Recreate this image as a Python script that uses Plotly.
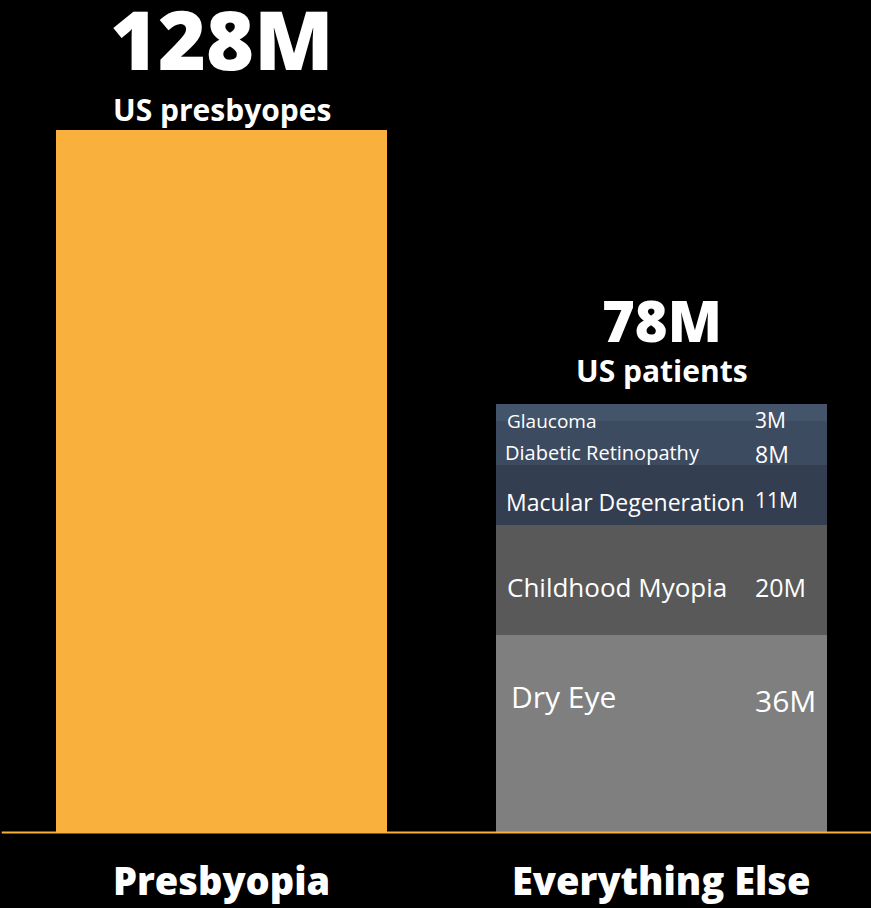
import plotly.graph_objects as go

# Categories and totals (millions of people)
categories = ["Presbyopia", "Everything Else"]
presbyopia_total = 128
headline_values = ["128M", "78M"]
headline_captions = ["US presbyopes", "US patients"]

# Breakdown of the "Everything Else" stack, bottom to top
segments = ["Dry Eye", "Childhood Myopia", "Macular Degeneration", "Diabetic Retinopathy", "Glaucoma"]
segment_values = [36, 20, 11, 8, 3]
segment_value_labels = ["36M", "20M", "11M", "8M", "3M"]

# Styling
segment_colors = ["#7f7f7f", "#595959", "#343e51", "#3d4b60", "#44546b"]
segment_font_sizes = [30, 26, 23, 20, 19]
value_font_sizes = [30, 25, 21, 23, 21]
label_x = [0.6534, 0.6443, 0.6420, 0.6398, 0.6443]
value_x = 1.208
label_y = [24.7, 44.7, 60.2, 69.2, 75.0]
value_y = [24.1, 44.7, 60.6, 69.0, 75.2]
ORANGE = "#fab03c"
FONT = "Open Sans"
BAR_W = 0.752

fig = go.Figure()

fig.add_trace(go.Bar(
    x=[0], y=[presbyopia_total], width=BAR_W,
    marker=dict(color=ORANGE, line=dict(width=0)),
    hoverinfo="skip", showlegend=False,
))

for name, val, col in zip(segments, segment_values, segment_colors):
    fig.add_trace(go.Bar(
        x=[1], y=[val], width=BAR_W, name=name,
        marker=dict(color=col, line=dict(width=0)),
        hoverinfo="skip", showlegend=False,
    ))

annotations = []
# Segment names and values inside the stack
for name, vtxt, fs, vfs, lx, ly, vy in zip(segments, segment_value_labels, segment_font_sizes,
                                           value_font_sizes, label_x, label_y, value_y):
    annotations.append(dict(x=lx, y=ly, text=name, xanchor="left", yanchor="middle",
                            showarrow=False, font=dict(family=FONT, size=fs, color="white")))
    annotations.append(dict(x=value_x, y=vy, text=vtxt, xanchor="left", yanchor="middle",
                            showarrow=False, font=dict(family=FONT, size=vfs, color="white")))

everything_total = sum(segment_values)
# Headline totals above each bar
for xi, total, big, cap in zip([0, 1], [presbyopia_total, everything_total], headline_values, headline_captions):
    big_size = 82 if xi == 0 else 56
    big_off = 16.8 if xi == 0 else 15.3
    annotations.append(dict(x=xi, y=total + big_off, text=big, xanchor="center", yanchor="middle",
                            showarrow=False, font=dict(family=FONT, size=big_size, color="white", weight=800)))
    annotations.append(dict(x=xi, y=total + (3.8 if xi == 0 else 6.1), text=cap, xanchor="center",
                            yanchor="middle", showarrow=False,
                            font=dict(family=FONT, size=30, color="white", weight=700)))

# Category labels under the baseline
for xi, cat in enumerate(categories):
    annotations.append(dict(x=xi, y=-8.7, text=cat, xanchor="center", yanchor="middle",
                            showarrow=False, font=dict(family=FONT, size=38, color="white", weight=800)))

fig.update_layout(
    barmode="stack",
    width=871, height=908,
    margin=dict(l=0, r=0, t=0, b=0),
    paper_bgcolor="black", plot_bgcolor="black",
    xaxis=dict(range=[-0.5034, 1.476], visible=False, fixedrange=True),
    yaxis=dict(range=[-13.76, 151.7], visible=False, fixedrange=True),
    annotations=annotations,
    bargap=0,
    shapes=[dict(type="line", xref="paper", yref="y", x0=0.002, x1=1, y0=0, y1=0,
                 line=dict(color=ORANGE, width=2), layer="above")],
)

fig.write_html("out.html")
